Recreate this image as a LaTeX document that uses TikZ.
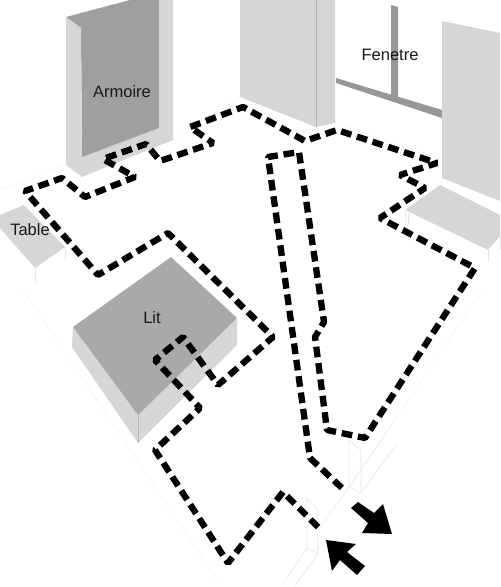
\documentclass[tikz,border=0pt]{standalone}
\usepackage{fontspec}
\setmainfont{Liberation Sans}
\usepackage{xcolor}
\usetikzlibrary{arrows.meta,positioning}
\definecolor{cDark}{HTML}{9F9F9F}
\definecolor{cBed}{HTML}{A9A9A9}
\definecolor{cSide}{HTML}{D6D6D6}
\definecolor{cEdge}{HTML}{B4B4B4}
\definecolor{cBar}{HTML}{979797}
\definecolor{cFaint}{HTML}{E6E6E6}
\definecolor{cFloor}{HTML}{F4F4F4}
\tikzset{
  side/.style ={fill=cSide},
  back/.style ={fill=cDark},
  edge/.style ={draw=cEdge, line width=0.3pt},
  faint/.style={draw=cFaint, line width=0.35pt},
  floor/.style={draw=cFloor, line width=0.35pt},
  route/.style={draw=black, line width=3.6pt, dash pattern=on 6.1pt off 3.3pt, line join=bevel},
  flow/.style ={fill=black},
  label/.style={font=\fontsize{9.4}{11}\selectfont, text=black!90, inner sep=0pt},
}
\begin{document}
\begin{tikzpicture}[x=0.02cm,y=-0.02cm]
  \useasboundingbox (0,0) rectangle (500,587);
  % floor and door outlines
  \draw[floor] (0,190)--(66,165);
  \draw[floor] (173,140)--(240,97);
  \draw[floor] (335,123)--(442,160);
  \draw[floor] (23,290)--(217,580);
  \draw[floor] (482,290)--(393,423);
  \draw[faint] (393,423)--(349,487)--(318,530);
  \draw[faint] (349,440)--(361,450)--(361,493)--(349,487)--cycle;
  \draw[faint] (396,445)--(361,493);
  \draw[faint] (307,498)--(318,510)--(318,554)--(307,548)--cycle;
  \draw[faint] (307,548)--(282,586);
  \draw[faint] (318,554)--(295,586);
  % wardrobe
  \fill[back] (66,17)--(130,0)--(159,0)--(159,128)--(82,157)--(81,28)--cycle;
  \fill[side] (66,17)--(81,28)--(82,177)--(66,165)--cycle;
  \fill[side] (159,0)--(173,0)--(173,140)--(159,128)--cycle;
  \fill[side] (82,157)--(159,128)--(173,140)--(82,177)--cycle;
  \draw[edge] (82,157)--(159,128);
  % middle wall
  \fill[side] (240,0)--(335,0)--(335,123)--(316,127)--(240,97)--cycle;
  \draw[edge] (316,0)--(316,127);
  % window
  \fill[cBar] (391,5)--(398,7)--(398,97)--(391,96)--cycle;
  \fill[cBar] (336,78)--(442,110)--(442,118)--(336,83)--cycle;
  % right wall and right table
  \fill[side] (442,21)--(500,33)--(500,201)--(442,178)--cycle;
  \fill[side] (440,185)--(500,215)--(500,236)--(488,250)--(405,210)--cycle;
  \draw[faint] (405,210)--(405,222);
  \draw[faint] (408,213)--(408,224);
  \draw[faint] (488,250)--(488,262);
  \draw[faint] (500,236)--(500,250);
  % left table
  \fill[side] (0,215)--(24,205)--(65,247)--(35,268)--(0,228)--cycle;
  \draw[faint] (35,268)--(35,282);
  \draw[faint] (65,247)--(65,260);
  % bed
  \fill[side] (73,327)--(72,347)--(138,443)--(237,345)--(237,318)--(138,415)--cycle;
  \fill[cBed] (73,327)--(171,257)--(237,318)--(138,415)--cycle;
  \draw[edge] (138,415)--(138,443);
  % route through the room
  \draw[route] (318,527)--(283,492)--(228,563)--(155,450)--(200,408)--(155,360)
    --(183,337)--(218,385)--(273,337)--(168,233)--(98,275)--(25,191)--(62,178)
    --(85,197)--(135,177)--(103,159)--(146,144)--(160,161)--(213,143)--(190,127)
    --(243,107)--(305,141)--(337,130)--(437,163)--(400,175)--(425,188)--(380,218)
    --(475,268)--(365,438)--(327,430)--(315,337)--(324,322)--(299,152)--(268,157)
    --(310,458)--(343,489);
  % entry and exit
  \fill[flow] (351,508)--(358,502)--(374,513)--(383,504)--(392,534)--(362,533)--(368,523)--cycle;
  \fill[flow] (326,540)--(356,544)--(347,552)--(365,566)--(357,575)--(340,560)--(332,571)--cycle;
  % labels
  \node[label] (armoire) at (122,92) {Armoire};
  \node[label] (table) at (30,230) {Table};
  \node[label] (lit) at (152,318) {Lit};
  \node[label] (fenetre) at (390,55) {Fenetre};
\end{tikzpicture}
\end{document}
